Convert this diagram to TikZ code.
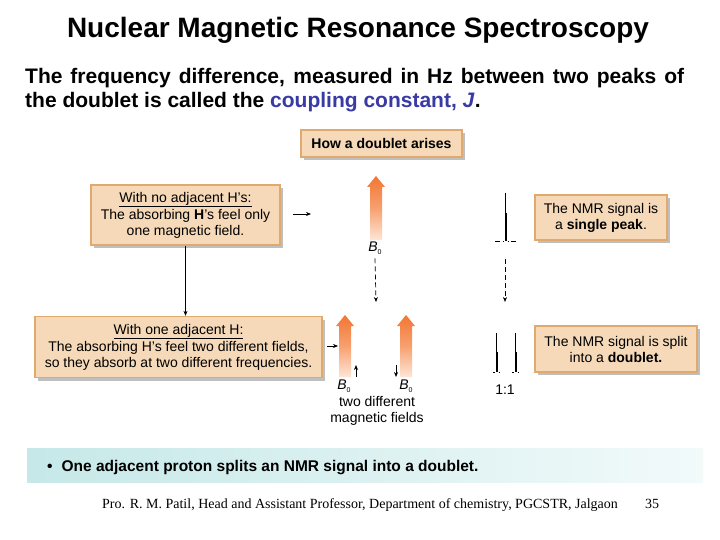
\documentclass[tikz,border=0pt]{standalone}
\usepackage{fontspec}
\setmainfont{Liberation Sans}
\newfontfamily\footfont{Liberation Serif}
\usetikzlibrary{shadows,arrows.meta}
\definecolor{boxfill}{RGB}{245,217,184}
\definecolor{boxline}{RGB}{224,170,110}
\definecolor{jblue}{RGB}{58,58,165}
\definecolor{orangeA}{RGB}{241,118,52}
\definecolor{orangeM}{RGB}{247,160,110}
\definecolor{orangeB}{RGB}{253,230,215}
\definecolor{bannerA}{RGB}{198,232,232}
\definecolor{bannerB}{RGB}{242,250,250}
\newcommand{\fieldarrow}[3]{%
  \shade[top color=orangeA, bottom color=orangeB, middle color=orangeM]
   (#1-6,#3) -- (#1-6,#2+11) -- (#1-9,#2+11) -- (#1,#2) -- (#1+9,#2+11) -- (#1+6,#2+11) -- (#1+6,#3) -- cycle;}
\newcommand{\Bfield}{\textit{B}\raisebox{-2.5pt}{\fontsize{7}{7}\selectfont 0}}
\begin{document}
\begin{tikzpicture}[x=1pt,y=-1pt,
  infobox/.style={draw=boxline, line width=1.3pt, fill=boxfill, align=center, inner sep=0pt,
    font=\fontsize{14}{16}\selectfont,
    drop shadow={shadow xshift=3pt, shadow yshift=-3pt, fill=black, opacity=0.25}},
  conn/.style={line width=0.7pt, -{Stealth[length=5pt,width=4pt]}},
  dconn/.style={conn, dash pattern=on 5pt off 3pt},
  peak/.style={line width=0.6pt},
  lbl/.style={font=\fontsize{14}{16}\selectfont, inner sep=0pt}]
\useasboundingbox (0,0) rectangle (720,540);
\fill[white] (0,0) rectangle (720,540);

\node[font=\bfseries\fontsize{28}{30}\selectfont, anchor=base, inner sep=0pt] (title) at (358,38) {Nuclear Magnetic Resonance Spectroscopy};

\node[font=\bfseries\fontsize{21}{24}\selectfont, anchor=base west, inner sep=0pt] (p1) at (25,84)
  {\makebox[659pt][s]{The frequency difference, measured in Hz between two peaks of}};
\node[font=\bfseries\fontsize{21}{24}\selectfont, anchor=base west, inner sep=0pt] (p2) at (25,108)
  {the doublet is called the \textcolor{jblue}{coupling constant, \textit{J}}.};

\node[infobox, minimum width=161pt, minimum height=27pt, font=\bfseries\fontsize{14}{16}\selectfont] (how) at (381.5,143.5) {How a doublet arises};
\node[infobox, minimum width=189pt, minimum height=60pt] (nob) at (185.5,215)
  {\underline{With no adjacent H’s:}\\[1pt]The absorbing \textbf{H}’s feel only\\one magnetic field.};
\node[infobox, minimum width=287pt, minimum height=61pt] (oneb) at (178.5,347)
  {\underline{With one adjacent H:}\\[1pt]The absorbing H’s feel two different fields,\\so they absorb at two different frequencies.};
\node[infobox, minimum width=132pt, minimum height=45pt] (single) at (601,217.5)
  {The NMR signal is\\a \textbf{single peak}.};
\node[infobox, minimum width=162pt, minimum height=46pt] (dbl) at (616,349)
  {The NMR signal is split\\into a \textbf{doublet.}};

\draw[conn] (nob.south) -- (nob.south |- oneb.north);

\coordinate (s1a) at (293,214); \coordinate (s1b) at (311,214);
\draw[conn] (s1a) -- (s1b);
\coordinate (s2a) at (327,346); \coordinate (s2b) at (338,346);
\draw[conn] (s2a) -- (s2b);

\fieldarrow{376}{176}{240}
\node[lbl] (b1) at (375,248) {\Bfield};
\fieldarrow{345}{315}{377}
\fieldarrow{406}{315}{377}
\node[lbl] (b2) at (344,386) {\Bfield};
\node[lbl] (b3) at (406,386) {\Bfield};
\node[lbl, align=center] (twof) at (377,411) {two different\\magnetic fields};

\coordinate (u1a) at (356,377); \coordinate (u1b) at (356,365);
\draw[conn] (u1a) -- (u1b);
\coordinate (u2a) at (396,365); \coordinate (u2b) at (396,377);
\draw[conn] (u2a) -- (u2b);

\coordinate (d1e) at (376,302);
\draw[dconn] ([yshift=-4pt]b1.south) -- (d1e);

% single peak
\coordinate (pk1) at (505,241);
\draw[peak] (505,193) -- (505,241) (506.6,213) -- (506.6,241);
\draw[peak] (495,241) -- (500,241) (503,241) -- (504,241) (507.5,241) -- (508.5,241) (511,241) -- (516,241);
\coordinate (d2e) at (505,302);
\draw[dconn] ([yshift=-18pt]pk1) -- (d2e);

% doublet
\draw[peak] (496,333) -- (496,372) (497.4,352) -- (497.4,372) (493,372) -- (495,372) (498.5,372) -- (500,372);
\draw[peak] (515,333) -- (515,372) (516.4,352) -- (516.4,372) (512,372) -- (514,372) (517.5,372) -- (519,372);
\node[lbl] (ratio) at (505,390) {1:1};

% banner
\shade[left color=bannerA, right color=bannerB] (27,448) rectangle (703,482);
\node[font=\bfseries\fontsize{15.5}{18}\selectfont, anchor=base west, inner sep=0pt] (bul) at (47,471)
  {\textbullet\hspace{9pt}One adjacent proton splits an NMR signal into a doublet.};

\node[font=\footfont\fontsize{14}{16}\selectfont, anchor=base west, inner sep=0pt] (foot) at (102,508)
  {Pro. R. M. Patil, Head and Assistant Professor, Department of chemistry, PGCSTR, Jalgaon};
\node[font=\footfont\fontsize{14}{16}\selectfont, anchor=base west, inner sep=0pt] (page) at (645,508) {35};
\end{tikzpicture}
\end{document}
